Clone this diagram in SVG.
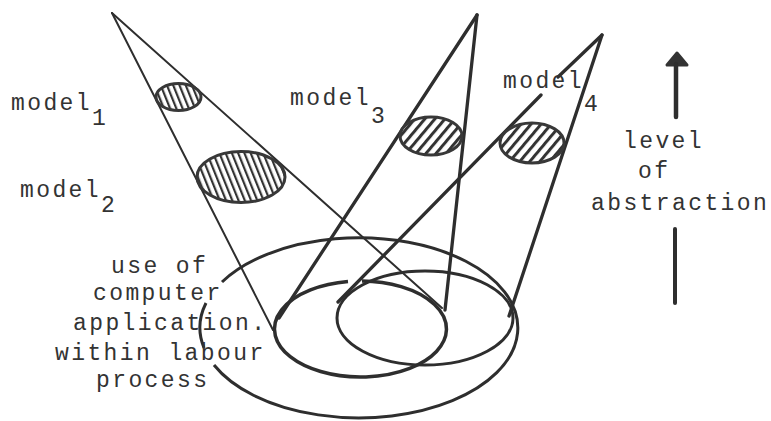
<svg xmlns="http://www.w3.org/2000/svg" width="771" height="421" viewBox="0 0 771 421">
<style>
  .t{font-family:"Liberation Mono","DejaVu Sans Mono",monospace;font-size:23px;letter-spacing:2.4px;fill:#333}
  .ln{stroke:#2e2e2e;fill:none;stroke-linecap:round}
  .thin{stroke-width:2}
  .thick{stroke-width:3.3}
  .ell{fill:none;stroke:#2e2e2e;stroke-width:3}
  .hatch{stroke:#383838;stroke-width:3}
</style>
<defs>
  <pattern id="hA" patternUnits="userSpaceOnUse" width="5.8" height="20" patternTransform="rotate(-22)">
    <rect x="0" y="0" width="6" height="20" fill="#fff"/>
    <rect x="0" y="0" width="2.2" height="20" fill="#333"/>
  </pattern>
  <pattern id="hB" patternUnits="userSpaceOnUse" width="7.7" height="20" patternTransform="rotate(40)">
    <rect x="0" y="0" width="8" height="20" fill="#fff"/>
    <rect x="0" y="0" width="3" height="20" fill="#333"/>
  </pattern>
</defs>
<rect width="771" height="421" fill="#fff"/>

<g id="base">
  <path class="ell" d="M222,282 A159,90 0 1 1 214,365 M206,303 A159,90 0 0 0 204,348"/>
  <path class="ell" style="stroke-width:3.5" d="M362,281 A86,48 0 1 1 348,281.5"/>
  <ellipse class="ell" cx="425" cy="318" rx="88" ry="47"/>
</g>

<g id="connectors">
  <line class="ln thin" x1="112" y1="13" x2="273" y2="330"/>
  <line class="ln thin" x1="112" y1="13" x2="442" y2="308"/>
  <line class="ln thick" x1="477" y1="15" x2="279" y2="318"/>
  <line class="ln thick" x1="477" y1="15" x2="445" y2="310"/>
  <line class="ln thick" x1="602" y1="35" x2="558" y2="77"/>
  <line class="ln thick" x1="541" y1="95" x2="338" y2="302"/>
  <line class="ln thick" x1="602" y1="35" x2="509" y2="316"/>
</g>

<g id="model1">
  <ellipse cx="178.5" cy="97" rx="22.5" ry="13.5" fill="url(#hA)" class="hatch"/>
  <text class="t" x="11" y="110">model<tspan dy="15">1</tspan></text>
</g>
<g id="model2">
  <ellipse cx="241" cy="177" rx="44" ry="25.5" fill="url(#hA)" class="hatch"/>
  <text class="t" x="20" y="197">model<tspan dy="15">2</tspan></text>
</g>
<g id="model3">
  <ellipse cx="431" cy="136" rx="31" ry="19" fill="url(#hB)" class="hatch"/>
  <text class="t" x="290" y="105">model<tspan dy="18">3</tspan></text>
</g>
<g id="model4">
  <ellipse cx="532" cy="143" rx="32" ry="20" fill="url(#hB)" class="hatch"/>
  <text class="t" x="503" y="88">model<tspan dy="23">4</tspan></text>
</g>

<g id="axis">
  <polygon points="677,53 667,65 687,65" fill="#333" stroke="#333" stroke-width="3" stroke-linejoin="round"/>
  <line class="ln" style="stroke-width:4.5" x1="676" y1="64" x2="676" y2="117"/>
  <line class="ln" style="stroke-width:4" x1="675" y1="229" x2="675" y2="303"/>
  <text class="t" x="623" y="148">level</text>
  <text class="t" x="638" y="178">of</text>
  <text class="t" x="591" y="210">abstraction</text>
</g>

<g id="process-label">
  <text class="t" x="111" y="273">use of</text>
  <text class="t" x="93" y="300">computer</text>
  <text class="t" x="73" y="330">application.</text>
  <text class="t" x="55" y="360">within labour</text>
  <text class="t" x="96" y="387">process</text>
</g>
</svg>
